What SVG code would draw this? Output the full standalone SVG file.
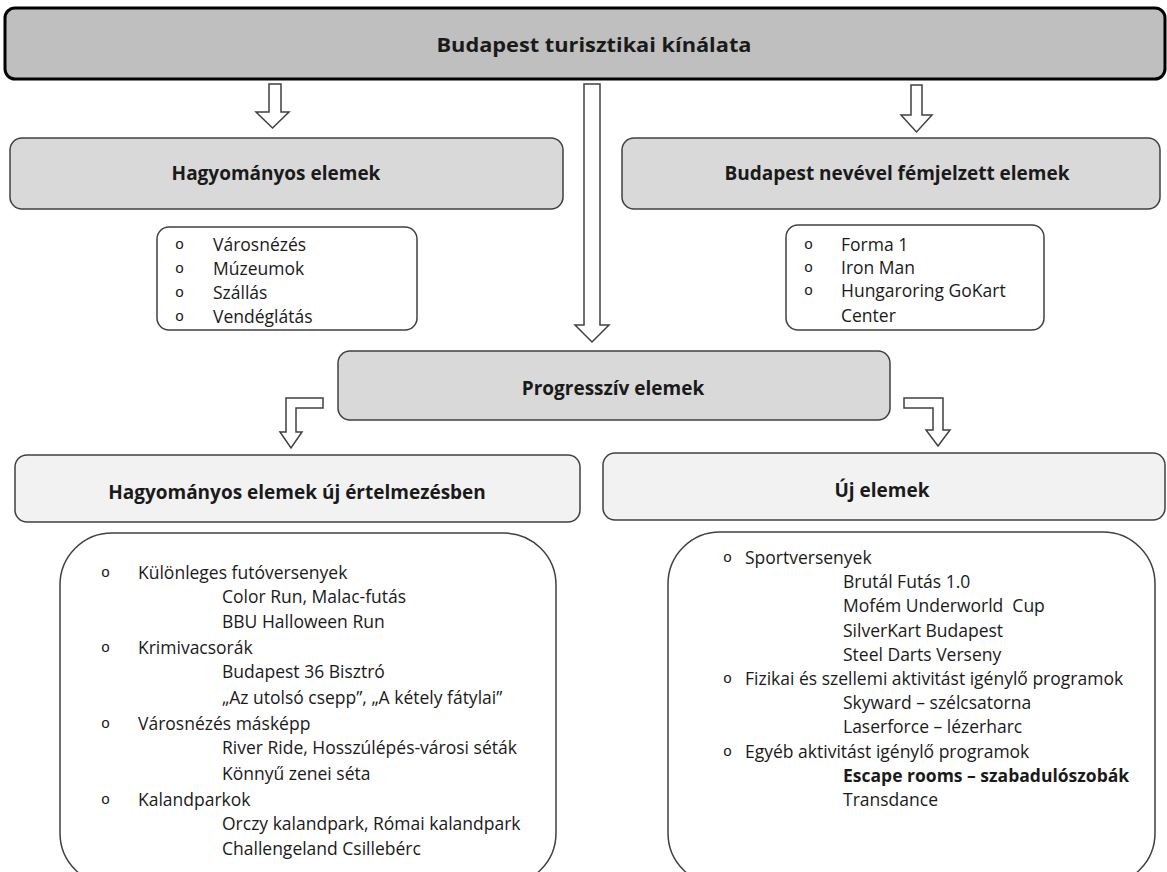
<svg xmlns="http://www.w3.org/2000/svg" width="1167" height="872" viewBox="0 0 1167 872">
<style>
  .box{stroke:#404040;stroke-width:1.5}
  .g1{fill:#d9d9d9}
  .g2{fill:#f2f2f2}
  .wh{fill:#ffffff}
  .arr{fill:#ffffff;stroke:#404040;stroke-width:1.5;stroke-linejoin:miter}
  .hd{font-family:"Open Sans","Liberation Sans",sans-serif;font-weight:bold;font-size:19px;fill:#1a1a1a;text-anchor:middle}
  .tx{font-family:"Open Sans","Liberation Sans",sans-serif;font-size:17.5px;fill:#1a1a1a}
  .bl{font-family:"Liberation Mono","DejaVu Sans Mono",monospace;font-size:15px;fill:#1a1a1a}
</style>
<rect width="1167" height="872" fill="#ffffff"/>
<g id="title">
  <rect x="5" y="8" width="1160" height="71" rx="10" fill="#bfbfbf" stroke="#000000" stroke-width="3"/>
  <text x="594" y="52" class="hd" font-size="22" textLength="315" lengthAdjust="spacingAndGlyphs">Budapest turisztikai  kínálata</text>
</g>
<g id="connectors">
  <polygon class="arr" points="269,84 281,84 281,112 289,112 272.5,128 256,112 269,112"/>
  <polygon class="arr" points="584,84 600,84 600,325 609,325 592,342 575,325 584,325"/>
  <polygon class="arr" points="911,85 922,85 922,115 932,115 916.5,132 901,115 911,115"/>
  <polygon class="arr" points="323,398 323,408 296,408 296,432 302,432 291,448 280,432 286,432 286,398"/>
  <polygon class="arr" points="904,398 943,398 943,430 950,430 938,446 926,430 933,430 933,408 904,408"/>
</g>
<g id="hagyomanyos">
  <rect x="10" y="138" width="553" height="71" rx="12" class="box g1"/>
  <text x="276" y="180" class="hd">Hagyományos elemek</text>
</g>
<g id="budapest-nevevel">
  <rect x="622" y="138" width="538" height="71" rx="12" class="box g1"/>
  <text x="897" y="180" class="hd">Budapest nevével fémjelzett elemek</text>
</g>
<g id="hagyomanyos-lista">
  <rect x="157" y="227" width="260" height="103" rx="12" class="box wh"/>
  <text x="175" y="249" class="bl">o</text><text x="213" y="251" class="tx">Városnézés</text>
  <text x="175" y="273" class="bl">o</text><text x="213" y="275" class="tx">Múzeumok</text>
  <text x="175" y="297" class="bl">o</text><text x="213" y="299" class="tx">Szállás</text>
  <text x="175" y="321" class="bl">o</text><text x="213" y="323" class="tx">Vendéglátás</text>
</g>
<g id="budapest-lista">
  <rect x="786" y="225" width="258" height="105" rx="12" class="box wh"/>
  <text x="804" y="249" class="bl">o</text><text x="841" y="251" class="tx">Forma 1</text>
  <text x="804" y="272" class="bl">o</text><text x="841" y="274" class="tx">Iron Man</text>
  <text x="804" y="295" class="bl">o</text><text x="841" y="297" class="tx">Hungaroring GoKart</text>
  <text x="841" y="322" class="tx">Center</text>
</g>
<g id="progressziv">
  <rect x="338" y="351" width="552" height="69" rx="12" class="box g1"/>
  <text x="613" y="395" class="hd">Progresszív elemek</text>
</g>
<g id="hagyomanyos-uj">
  <rect x="15" y="455" width="565" height="67" rx="12" class="box g2"/>
  <text x="297" y="499" class="hd">Hagyományos elemek új értelmezésben</text>
</g>
<g id="uj-elemek">
  <rect x="603" y="453" width="562" height="67" rx="12" class="box g2"/>
  <text x="882" y="497" class="hd">Új elemek</text>
</g>
<g id="hagyomanyos-uj-lista">
  <rect x="60" y="533" width="496" height="352" rx="52" class="box wh"/>
  <text x="101" y="577" class="bl">o</text><text x="138" y="579" class="tx">Különleges futóversenyek</text>
  <text x="222" y="603" class="tx">Color Run, Malac-futás</text>
  <text x="222" y="628" class="tx">BBU Halloween Run</text>
  <text x="101" y="652" class="bl">o</text><text x="138" y="654" class="tx">Krimivacsorák</text>
  <text x="222" y="678" class="tx">Budapest 36 Bisztró</text>
  <text x="222" y="704" class="tx">„Az utolsó csepp”, „A kétely fátylai”</text>
  <text x="101" y="728" class="bl">o</text><text x="138" y="730" class="tx">Városnézés másképp</text>
  <text x="222" y="754" class="tx">River Ride, Hosszúlépés-városi séták</text>
  <text x="222" y="780" class="tx">Könnyű zenei séta</text>
  <text x="101" y="804" class="bl">o</text><text x="138" y="806" class="tx">Kalandparkok</text>
  <text x="222" y="830" class="tx">Orczy kalandpark, Római kalandpark</text>
  <text x="222" y="855" class="tx">Challengeland Csillebérc</text>
</g>
<g id="uj-elemek-lista">
  <rect x="668" y="532" width="487" height="353" rx="52" class="box wh"/>
  <text x="723" y="562" class="bl">o</text><text x="745" y="564" class="tx">Sportversenyek</text>
  <text x="843" y="588" class="tx">Brutál Futás 1.0</text>
  <text x="843" y="612" class="tx">Mofém Underworld&#160; Cup</text>
  <text x="843" y="637" class="tx">SilverKart Budapest</text>
  <text x="843" y="661" class="tx">Steel Darts Verseny</text>
  <text x="723" y="683" class="bl">o</text><text x="745" y="685" class="tx">Fizikai és szellemi aktivitást igénylő programok</text>
  <text x="843" y="709" class="tx">Skyward – szélcsatorna</text>
  <text x="843" y="733" class="tx">Laserforce – lézerharc</text>
  <text x="723" y="756" class="bl">o</text><text x="745" y="758" class="tx">Egyéb aktivitást igénylő programok</text>
  <text x="843" y="782" class="tx" font-weight="bold">Escape rooms – szabadulószobák</text>
  <text x="843" y="806" class="tx">Transdance</text>
</g>
</svg>
